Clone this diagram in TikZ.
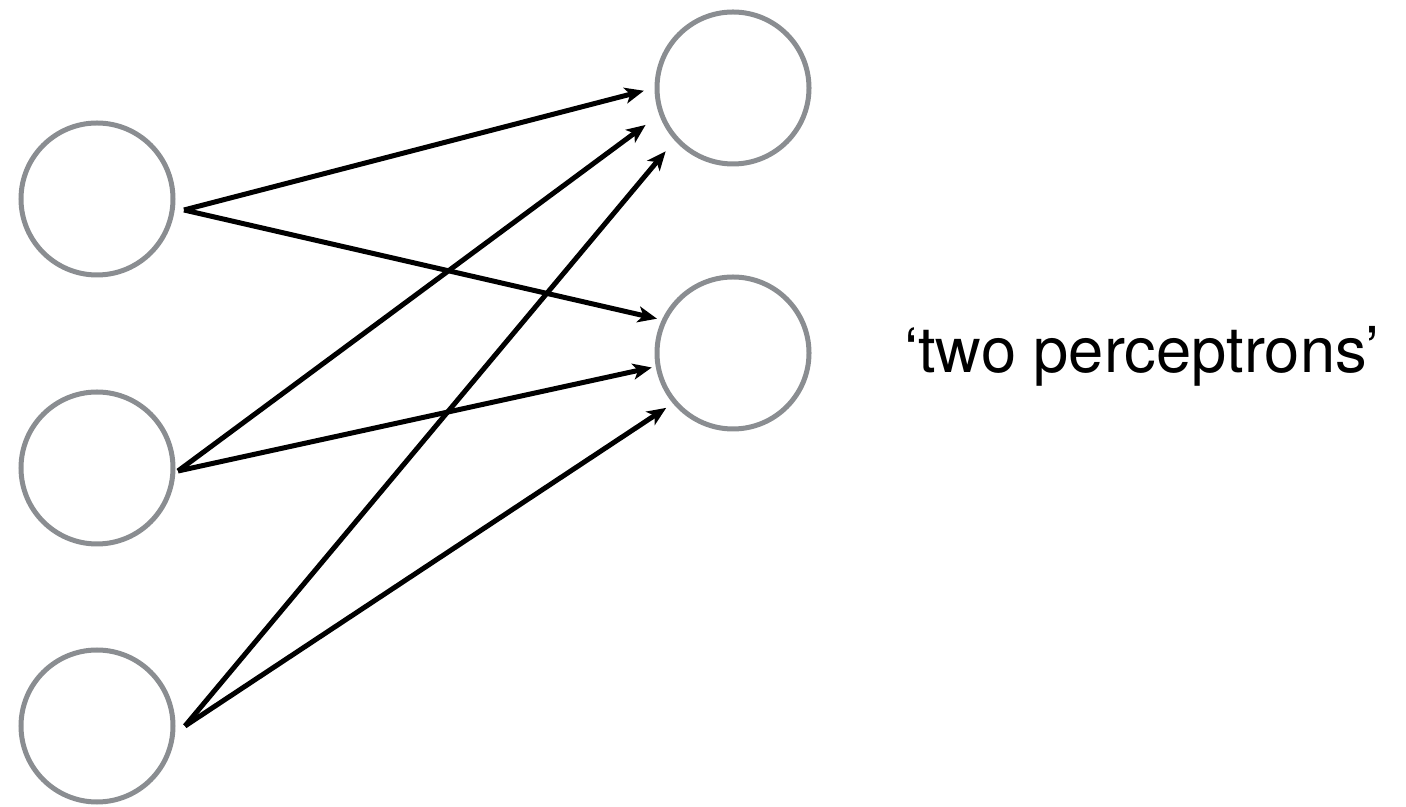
\documentclass[tikz,border=0pt]{standalone}
\usepackage{fontspec}
\newfontfamily\labelfont{TeX Gyre Heros}
\usetikzlibrary{arrows.meta}
\definecolor{ringgray}{RGB}{138,141,145}
\tikzset{
  unit/.style={draw=ringgray,circle,line width=0.1cm,minimum size=3.04cm,inner sep=0pt},
  wire/.style={line width=0.1cm,-{Stealth[length=0.38cm,width=0.32cm,inset=0.1cm]}}
}
\begin{document}
\begin{tikzpicture}
  \useasboundingbox (0,0) rectangle (28.12,16.14);
  % inputs
  \node [unit] (i1) at (1.94,12.16) {};
  \node [unit] (i2) at (1.94,6.78) {};
  \node [unit] (i3) at (1.94,1.62) {};
  % outputs
  \node [unit] (o1) at (14.66,14.38) {};
  \node [unit] (o2) at (14.66,9.08) {};
  % where the wires leave the inputs
  \coordinate (s1) at (3.68,11.94);
  \coordinate (s2) at (3.56,6.72);
  \coordinate (s3) at (3.70,1.62);
  \draw [wire,shorten >=0.22cm] (s1) -- (o1.180);
  \draw [wire,shorten >=0.34cm] (s2) -- (o1.200);
  \draw [wire,shorten >=0.28cm] (s3) -- (o1.222);
  \draw [wire,shorten >=0.1cm] (s1) -- (o2.155);
  \draw [wire,shorten >=0.08cm] (s2) -- (o2.190);
  \draw [wire,shorten >=0.16cm] (s3) -- (o2.220);
  \node [anchor=base west,inner sep=0pt] (lbl) at (18.08,8.68) {\labelfont\fontsize{36}{42}\selectfont ‘two perceptrons’};
\end{tikzpicture}
\end{document}
